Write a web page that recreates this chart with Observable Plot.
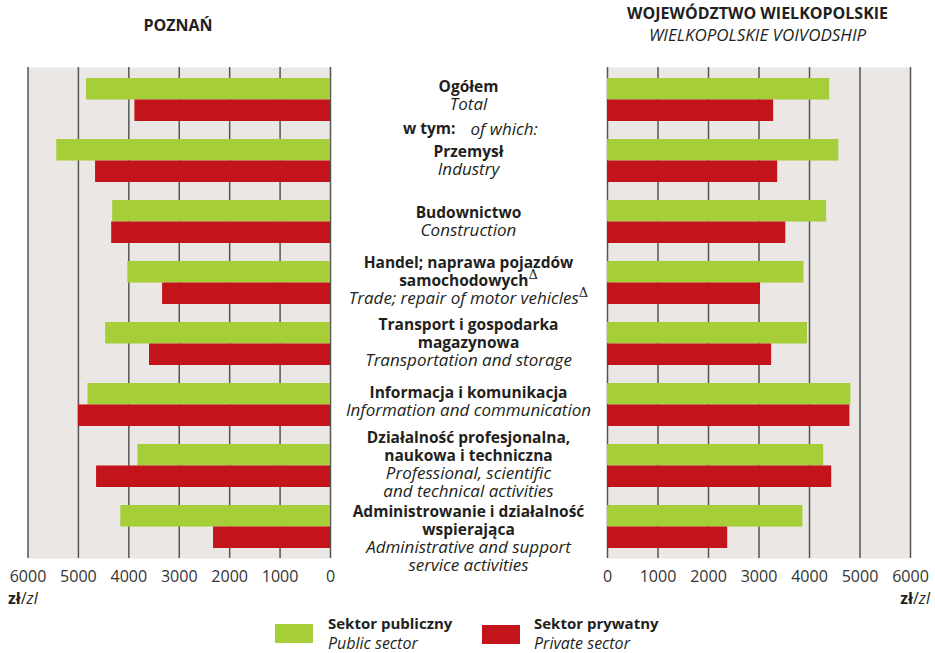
<!DOCTYPE html>
<html><head><meta charset="utf-8">
<script src="https://cdn.jsdelivr.net/npm/d3@7"></script>
<script src="https://cdn.jsdelivr.net/npm/@observablehq/plot@0.6"></script>
<style>
body{margin:0;background:#fff;font-family:"Open Sans",sans-serif;color:#231f20}
#wrap{position:relative;width:935px;height:653px;overflow:hidden}
#wrap svg{position:absolute;left:0;top:0}
.abs{position:absolute;white-space:nowrap;line-height:18px}
</style></head><body><div id="wrap"></div>
<script>
// ---- data ----
const categories = ["Ogółem","Przemysł","Budownictwo","Handel","Transport","Informacja","Działalność","Administrowanie"];
const labelsPL = [["Ogółem"],["Przemysł"],["Budownictwo"],["Handel; naprawa pojazdów","samochodowychΔ"],["Transport i gospodarka","magazynowa"],["Informacja i komunikacja"],["Działalność profesjonalna,","naukowa i techniczna"],["Administrowanie i działalność","wspierająca"]];
const labelsEN = [["Total"],["Industry"],["Construction"],["Trade; repair of motor vehiclesΔ"],["Transportation and storage"],["Information and communication"],["Professional, scientific","and technical activities"],["Administrative and support","service activities"]];
const sectors = ["Sektor publiczny","Sektor prywatny"];
const sectorsEN = ["Public sector","Private sector"];
const poznanPublic  = [4840, 5430, 4320, 4020, 4460, 4810, 3820, 4160];
const poznanPrivate = [3880, 4660, 4340, 3330, 3590, 5000, 4640, 2320];
const wlkpPublic    = [4400, 4580, 4340, 3890, 3960, 4820, 4280, 3870];
const wlkpPrivate   = [3290, 3370, 3530, 3030, 3250, 4800, 4440, 2380];
const xTicks = [0, 1000, 2000, 3000, 4000, 5000, 6000];

// ---- layout / style ----
const W = 935, H = 610, MT = 67, MB = 52;
const PI = 0.3, PO = 0.15;
const step = (H - MT - MB) / (categories.length - PI + 2 * PO);
const half = step * (1 - PI) / 2;
const GREEN = "#a6ce39", RED = "#c4141b", BG = "#ebe7e4", GRID = "#555", INK = "#231f20";
const FSB = 15.5, FSI = 17, LH = 18;
const labelNudge = [-5, -1, -1, -2.5, -2, -3.5, -2, 11];

const rows = (vals) => vals.map((v, i) => ({cat: categories[i], value: v}));

function panel(pub, priv, opts) {
  return Plot.plot({
    width: W, height: H, marginTop: MT, marginBottom: MB,
    marginLeft: opts.ml, marginRight: opts.mr,
    style: {background: "transparent", overflow: "visible", fontFamily: "Open Sans", fontSize: "16px", color: INK},
    x: {domain: [0, 6000], reverse: opts.reverse, axis: null, label: null},
    y: {type: "band", domain: categories, paddingInner: PI, paddingOuter: PO, axis: null},
    marks: [
      Plot.frame({fill: BG, stroke: null}),
      Plot.ruleX(xTicks, {stroke: GRID, strokeWidth: 1.5}),
      Plot.barX(rows(pub), {x: "value", y: "cat", fill: GREEN, insetBottom: half}),
      Plot.barX(rows(priv), {x: "value", y: "cat", fill: RED, insetTop: half}),
      Plot.axisX(xTicks, {tickSize: 0, tickPadding: 12, fontSize: 16, fill: "#333", label: null, tickFormat: d => String(d)}),
      ...(opts.extra || [])
    ]
  });
}

const centerMarks = [];
categories.forEach((c, i) => {
  const nb = labelsPL[i].length, ni = labelsEN[i].length;
  centerMarks.push(Plot.text([c], {y: d => d, text: () => labelsPL[i].join("\n"), frameAnchor: "right", dx: 138,
    dy: -ni / 2 * LH + labelNudge[i], lineAnchor: "middle", textAnchor: "middle", fontWeight: "bold", fontSize: FSB, lineHeight: LH / FSB, fill: INK}));
  centerMarks.push(Plot.text([c], {y: d => d, text: () => labelsEN[i].join("\n"), frameAnchor: "right", dx: 138,
    dy: nb / 2 * LH + labelNudge[i], lineAnchor: "middle", textAnchor: "middle", fontStyle: "italic", fontSize: FSI, lineHeight: LH / FSI, fill: INK}));
});
centerMarks.push(Plot.text([categories[0]], {y: d => d, text: () => "w tym:", frameAnchor: "right", dx: 125, dy: 29.5, textAnchor: "end", fontWeight: "bold", fontSize: FSB, fill: INK}));
centerMarks.push(Plot.text([categories[0]], {y: d => d, text: () => "of which:", frameAnchor: "right", dx: 140, dy: 29.5, textAnchor: "start", fontStyle: "italic", fontSize: FSI, fill: INK}));

const left = panel(poznanPublic, poznanPrivate, {ml: 27.5, mr: W - 330, reverse: true, extra: centerMarks});
const right = panel(wlkpPublic, wlkpPrivate, {ml: 607, mr: 25, reverse: false});

const wrap = document.getElementById("wrap");
wrap.appendChild(left);
wrap.appendChild(right);

// superscript delta
d3.select(left).selectAll("text, tspan").each(function () {
  if (this.children.length === 0 && this.textContent.endsWith("Δ")) {
    const t = this.textContent.slice(0, -1);
    this.textContent = t;
    d3.select(this).append("tspan").attr("dy", "-7").attr("font-family", "DejaVu Serif")
      .attr("font-weight", "normal").attr("font-style", "normal").attr("font-size", 13).text("Δ");
  }
});

// titles, units, legend (HTML)
function addDiv(html, css) {
  const d = document.createElement("div");
  d.className = "abs"; d.innerHTML = html; Object.assign(d.style, css); wrap.appendChild(d);
}
addDiv("<b>POZNAŃ</b>", {left: "78px", width: "200px", textAlign: "center", top: "16px", fontSize: "16px"});
addDiv("<b>WOJEWÓDZTWO WIELKOPOLSKIE</b>", {left: "607px", width: "301px", textAlign: "center", top: "4px", fontSize: "16px"});
addDiv("<i>WIELKOPOLSKIE VOIVODSHIP</i>", {left: "607px", width: "301px", textAlign: "center", top: "26px", fontSize: "17px"});
addDiv("<b>zł</b>/<i>zl</i>", {left: "8px", top: "589px", fontSize: "16px"});
addDiv("<b>zł</b>/<i>zl</i>", {right: "5px", top: "589px", fontSize: "16px"});

const legX = [[275, 328], [482, 534]];
const legColors = [GREEN, RED];
sectors.forEach((s, i) => {
  addDiv("", {left: legX[i][0] + "px", top: (624 + i) + "px", width: "38px", height: "19px", background: legColors[i]});
  addDiv("<b>" + s + "</b>", {left: legX[i][1] + "px", top: "614px", fontSize: "15px"});
  addDiv("<i>" + sectorsEN[i] + "</i>", {left: legX[i][1] + "px", top: "634px", fontSize: "16px"});
});
</script></body></html>
